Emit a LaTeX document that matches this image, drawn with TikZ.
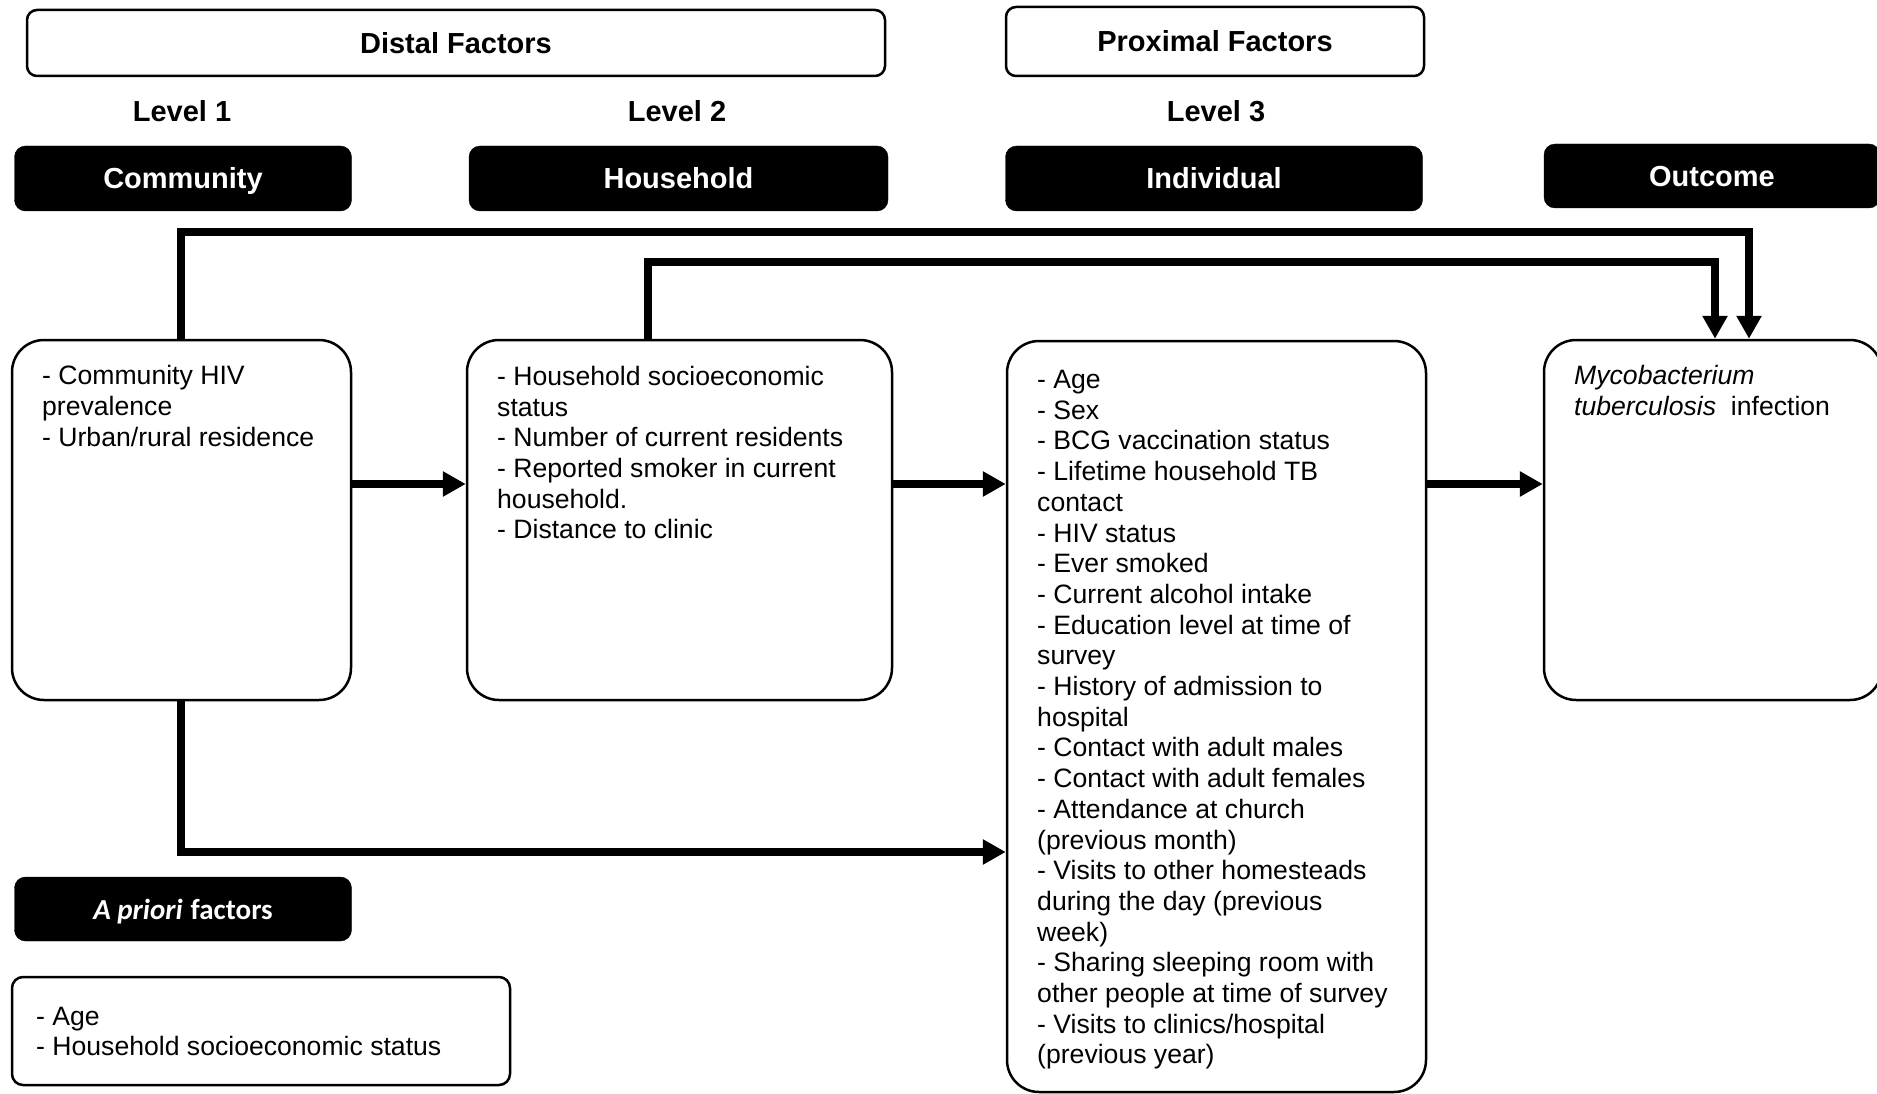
\documentclass[tikz,border=0pt]{standalone}
\usepackage{fontspec}
\setmainfont{Liberation Sans}
\newfontfamily\calib{Carlito}
\usetikzlibrary{arrows.meta}
\begin{document}
\begin{tikzpicture}[x=1pt,y=-1pt,
  hdr/.style={draw=black, line width=2.5pt, rounded corners=10pt, inner sep=0pt, text height=23.5pt, text depth=3pt, font=\fontsize{29}{34}\selectfont\bfseries},
  blk/.style={fill=black, draw=black, rounded corners=11pt, inner sep=0pt, text height=23.5pt, text depth=3pt, text=white, font=\fontsize{29}{34}\selectfont\bfseries},
  cbox/.style={draw=black, line width=2.5pt, rounded corners=32pt, inner sep=0pt},
  sbox/.style={draw=black, line width=2.5pt, rounded corners=11pt, inner sep=0pt},
  lvl/.style={font=\fontsize{29}{34}\selectfont\bfseries},
  txt/.style={anchor=north west, inner sep=0pt, align=left, font=\fontsize{26.6}{30.7}\selectfont},
  conn/.style={line width=8pt, line join=miter, -{Triangle[length=23pt,width=24pt]}},
  ]
\useasboundingbox (0,0) rectangle (1877,1094);
\fill[white] (0,0) rectangle (1877,1094);

% headers
\node[hdr, minimum width=858pt, minimum height=66pt] (distal) at (456,43) {Distal Factors};
\node[hdr, minimum width=418pt, minimum height=69pt] (prox) at (1215,41.5) {Proximal Factors};
\node[lvl] (l1) at (182,111) {Level 1};
\node[lvl] (l2) at (677,111) {Level 2};
\node[lvl] (l3) at (1216,111) {Level 3};

\node[blk, minimum width=337pt, minimum height=65pt] (commH) at (183,178.5) {Community};
\node[blk, minimum width=419pt, minimum height=65pt] (hhH) at (678.5,178.5) {Household};
\node[blk, minimum width=417pt, minimum height=65pt] (indH) at (1214,178.5) {Individual};
\node[blk, minimum width=336pt, minimum height=64pt] (outH) at (1712,176) {Outcome};

% content boxes
\node[cbox, minimum width=339pt, minimum height=360pt] (comm) at (181.5,520) {};
\node[cbox, minimum width=425pt, minimum height=360pt] (hh) at (679.5,520) {};
\node[cbox, minimum width=419pt, minimum height=751pt] (ind) at (1216.5,716.5) {};
\node[cbox, minimum width=338pt, minimum height=360pt] (out) at (1713,520) {};

\node[blk, minimum width=337pt, minimum height=64pt] (aprH) at (183,909) {{\calib\bfseries\itshape A priori} {\calib\bfseries factors}};
\node[sbox, minimum width=498pt, minimum height=108pt] (apr) at (261,1031) {};

% texts
\node[txt] (commT) at (42,365.5) {- Community HIV\\prevalence\\- Urban/rural residence};
\node[txt] (hhT) at (497,366) {- Household socioeconomic\\status\\- Number of current residents\\- Reported smoker in current\\household.\\- Distance to clinic};
\node[txt] (indT) at (1037,370) {- Age\\- Sex\\- BCG vaccination status\\- Lifetime household TB\\contact\\- HIV status\\- Ever smoked\\- Current alcohol intake\\- Education level at time of\\survey\\- History of admission to\\hospital\\- Contact with adult males\\- Contact with adult females\\- Attendance at church\\(previous month)\\- Visits to other homesteads\\during the day (previous\\week)\\- Sharing sleeping room with\\other people at time of survey\\- Visits to clinics/hospital\\(previous year)};
\node[txt] (outT) at (1574,365.5) {\textit{Mycobacterium}\\\textit{tuberculosis}\ \ infection};
\node[txt] (aprT) at (36,1006.5) {- Age\\- Household socioeconomic status};

% connectors
\coordinate (ay) at (0,484);
\coordinate (t1) at (1749,232);
\coordinate (t2) at (1715,262);
\coordinate (t2s) at (647.6,262);
\coordinate (b1) at (181,852);

\draw[conn] (comm.east |- ay) -- (hh.west |- ay);
\draw[conn] (hh.east |- ay) -- (ind.west |- ay);
\draw[conn] (ind.east |- ay) -- (out.west |- ay);
\draw[conn] (comm.north -| b1) |- (t1) -- (t1 |- out.north);
\draw[conn] (hh.north -| t2s) |- (t2) -- (t2 |- out.north);
\draw[conn] (comm.south -| b1) |- (ind.west |- b1);
\end{tikzpicture}
\end{document}
